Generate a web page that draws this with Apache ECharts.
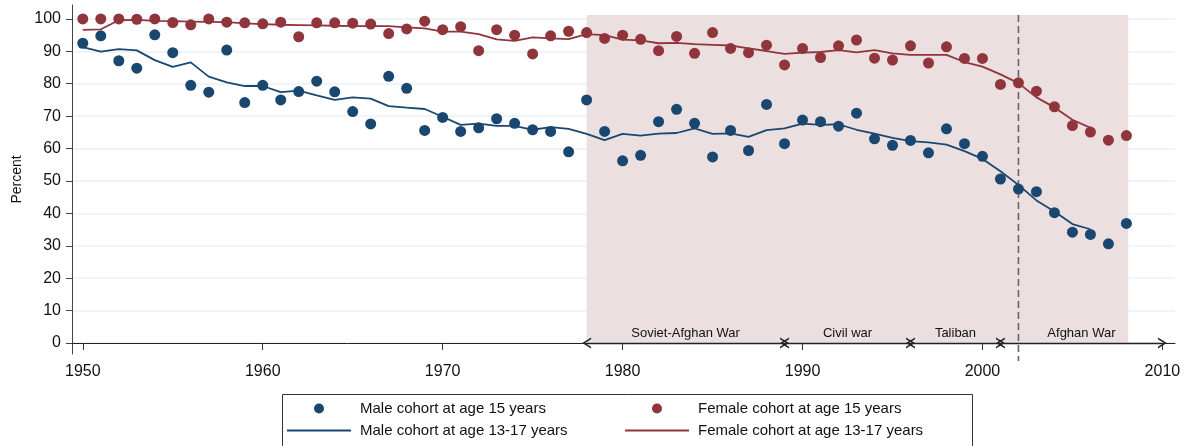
<!DOCTYPE html>
<html>
<head>
<meta charset="utf-8">
<script src="https://cdn.jsdelivr.net/npm/echarts@6/dist/echarts.min.js"></script>
<style>
  html, body { margin: 0; padding: 0; background: #fff; }
  #chart { width: 1186px; height: 446px; }
</style>
</head>
<body>
<div id="chart"></div>
<script>
// cohort years
var dotStart = 1950, dotEnd = 2008, lineEnd = 2006;

// 15岁队列 (scatter)
var maleAt15 = [92.5, 94.8, 87.1, 84.8, 95.1, 89.6, 79.5, 77.4, 90.4, 74.2,
  79.5, 75.0, 77.6, 80.8, 77.5, 71.4, 67.6, 82.3, 78.6, 65.6,
  69.6, 65.3, 66.4, 69.2, 67.8, 65.8, 65.3, 59.0, 75.0, 65.3,
  56.2, 57.9, 68.3, 72.1, 67.8, 57.4, 65.6, 59.4, 73.6, 61.5,
  68.8, 68.3, 66.9, 70.9, 63.0, 61.0, 62.5, 58.7, 66.1, 61.5,
  57.6, 50.6, 47.5, 46.7, 40.2, 34.2, 33.5, 30.6, 36.9];
var femaleAt15 = [100, 100, 100, 99.9, 100, 98.9, 98.2, 100, 99.0, 98.8,
  98.5, 99.0, 94.5, 98.8, 98.8, 98.7, 98.4, 95.5, 96.9, 99.3,
  96.7, 97.6, 90.2, 96.7, 95.0, 89.2, 94.8, 96.2, 95.8, 94.0,
  95.0, 93.7, 90.2, 94.6, 89.4, 95.8, 90.9, 89.6, 91.9, 85.8,
  90.9, 88.1, 91.7, 93.5, 87.9, 87.3, 91.7, 86.4, 91.4, 87.8,
  87.8, 79.8, 80.3, 77.7, 72.9, 67.1, 65.1, 62.6, 64.0];

// 13-17岁队列 (line)
var maleAt13to17 = [91.3, 89.9, 90.7, 90.3, 87.3, 85.2, 86.6, 82.2, 80.4, 79.3,
  79.3, 77.4, 77.9, 76.4, 75.0, 75.8, 75.4, 73.1, 72.6, 72.2,
  69.8, 67.3, 67.7, 67.0, 67.0, 65.8, 66.6, 66.1, 64.5, 62.6,
  64.5, 64.0, 64.6, 64.8, 66.2, 64.5, 64.7, 63.6, 65.7, 66.2,
  67.7, 67.3, 67.5, 65.8, 64.6, 63.3, 62.3, 61.9, 61.2, 59.2,
  56.8, 53.0, 48.8, 44.0, 40.6, 36.7, 35.1];
var femaleAt13to17 = [96.6, 96.8, 99.6, 99.7, 99.4, 99.3, 99.2, 99.1, 99.0, 98.6,
  98.4, 98.2, 98.1, 98.0, 97.9, 97.8, 97.8, 97.8, 97.4, 97.1,
  96.1, 96.1, 95.3, 93.7, 93.2, 94.3, 94.0, 93.8, 95.3, 95.0,
  93.6, 93.4, 92.5, 92.6, 92.2, 92.0, 91.8, 90.9, 90.1, 89.2,
  89.6, 89.8, 90.4, 89.7, 90.4, 89.4, 88.9, 88.9, 88.9, 86.7,
  85.3, 82.9, 80.2, 75.8, 72.7, 68.9, 66.4];

// periods
var periodNames = ['Soviet-Afghan War', 'Civil war', 'Taliban', 'Afghan War'];
var periodStart = [1978, 1989, 1996, 2001];
var periodEnd = [1989, 1996, 2001, 2010];
var shadeFrom = 1978, shadeTo = 2008.1, shadeTop = 101.2;
var warStart = 2002;

var xTicks = [1950, 1960, 1970, 1980, 1990, 2000, 2010];
var yTicks = [0, 10, 20, 30, 40, 50, 60, 70, 80, 90, 100];

var names = {
  m15: 'Male cohort at age 15 years',
  f15: 'Female cohort at age 15 years',
  m1317: 'Male cohort at age 13-17 years',
  f1317: 'Female cohort at age 13-17 years'
};
var navy = '#1a476f', maroon = '#90353b';
var font = 'Liberation Sans, Arial, sans-serif';
var yMin = -3.4;

function pairs(arr, start) {
  return arr.map(function (v, i) { return [start + i, v]; });
}

var chart = echarts.init(document.getElementById('chart'));

var arrowHead = 'path://M0,10 L6,0 L12,10 L10.2,10 L6,3.2 L1.8,10 Z';
var lineIcon = 'path://M0,0 L64,0 L64,1.8 L0,1.8 Z';

var option = {
  animation: false,
  textStyle: { fontFamily: font },
  grid: { left: 72, right: 11, top: 5, bottom: 92, containLabel: false, outerBoundsMode: 'none' },
  xAxis: {
    type: 'value',
    min: 1949.4,
    max: 2010.7,
    axisLine: { lineStyle: { color: '#222', width: 1 } },
    axisTick: { show: true, length: 7, customValues: xTicks, lineStyle: { color: '#333' } },
    axisLabel: {
      customValues: xTicks, color: '#111', fontSize: 16, margin: 10, fontFamily: font,
      formatter: function (v) { return String(v); }
    },
    splitLine: { show: false }
  },
  yAxis: {
    type: 'value',
    min: yMin,
    max: 104.3,
    name: 'Percent',
    nameLocation: 'middle',
    nameGap: 48,
    nameMoveOverlap: false,
    nameTextStyle: { color: '#111', fontSize: 14, fontFamily: font },
    axisLine: { show: true, lineStyle: { color: '#444', width: 1 } },
    axisTick: { show: true, length: 6, customValues: yTicks, lineStyle: { color: '#444' } },
    axisLabel: { customValues: yTicks, color: '#111', fontSize: 16, margin: 11, fontFamily: font },
    splitLine: { show: true, lineStyle: { color: '#eaf2f3', width: 1.5 } }
  },
  legend: [
    {
      orient: 'vertical', left: 287, top: 401, padding: 0,
      itemWidth: 64, itemHeight: 10, itemGap: 7,
      data: [{ name: names.m15, icon: 'circle' }, { name: names.m1317, icon: lineIcon }],
      textStyle: { fontSize: 15, color: '#111', fontFamily: font, padding: [0, 0, 0, 4] }
    },
    {
      orient: 'vertical', left: 625, top: 401, padding: 0,
      itemWidth: 64, itemHeight: 10, itemGap: 7,
      data: [{ name: names.f15, icon: 'circle' }, { name: names.f1317, icon: lineIcon }],
      textStyle: { fontSize: 15, color: '#111', fontFamily: font, padding: [0, 0, 0, 4] }
    }
  ],
  graphic: [{
    type: 'rect',
    left: 280, top: 392,
    shape: { width: 690, height: 60 },
    style: { fill: 'none', stroke: '#333', lineWidth: 1 },
    silent: true
  }],
  series: [
    {
      name: 'periods',
      type: 'line',
      data: [],
      z: 1,
      markArea: {
        silent: true,
        itemStyle: { color: '#ecdfe0' },
        data: [[{ coord: [shadeFrom, 0] }, { coord: [shadeTo, shadeTop] }]]
      },
      markLine: {
        silent: true,
        symbol: [arrowHead, arrowHead],
        symbolSize: [11, 9],
        lineStyle: { color: '#222', width: 1.4, type: 'solid' },
        label: {
          show: true,
          position: 'insideMiddleTop',
          distance: 3,
          color: '#111',
          fontSize: 13,
          fontFamily: font,
          formatter: function (p) { return p.name; }
        },
        data: periodNames.map(function (n, i) {
          return [{ coord: [periodStart[i], 0], name: n }, { coord: [periodEnd[i], 0] }];
        })
      }
    },
    {
      name: 'war line',
      type: 'custom',
      clip: false,
      silent: true,
      z: 3,
      data: [[warStart, shadeTop]],
      renderItem: function (params, api) {
        var top = api.coord([api.value(0), api.value(1)]);
        var bottom = api.coord([api.value(0), yMin]);
        return {
          type: 'line',
          shape: { x1: top[0], y1: top[1], x2: top[0], y2: bottom[1] + 7 },
          style: { stroke: '#666', lineWidth: 1.6, lineDash: [7, 4] }
        };
      }
    },
    {
      name: names.m15,
      type: 'scatter',
      symbol: 'circle',
      symbolSize: 11,
      itemStyle: { color: navy, opacity: 1 },
      z: 4,
      data: pairs(maleAt15, dotStart)
    },
    {
      name: names.f15,
      type: 'scatter',
      symbol: 'circle',
      symbolSize: 11,
      itemStyle: { color: maroon, opacity: 1 },
      z: 4,
      data: pairs(femaleAt15, dotStart)
    },
    {
      name: names.m1317,
      type: 'line',
      symbol: 'none',
      showSymbol: false,
      lineStyle: { color: navy, width: 1.8 },
      itemStyle: { color: navy },
      z: 5,
      data: pairs(maleAt13to17, dotStart)
    },
    {
      name: names.f1317,
      type: 'line',
      symbol: 'none',
      showSymbol: false,
      lineStyle: { color: maroon, width: 1.8 },
      itemStyle: { color: maroon },
      z: 5,
      data: pairs(femaleAt13to17, dotStart)
    }
  ]
};

chart.setOption(option);
window.onresize = function () {
  chart.resize();
};
</script>
</body>
</html>
